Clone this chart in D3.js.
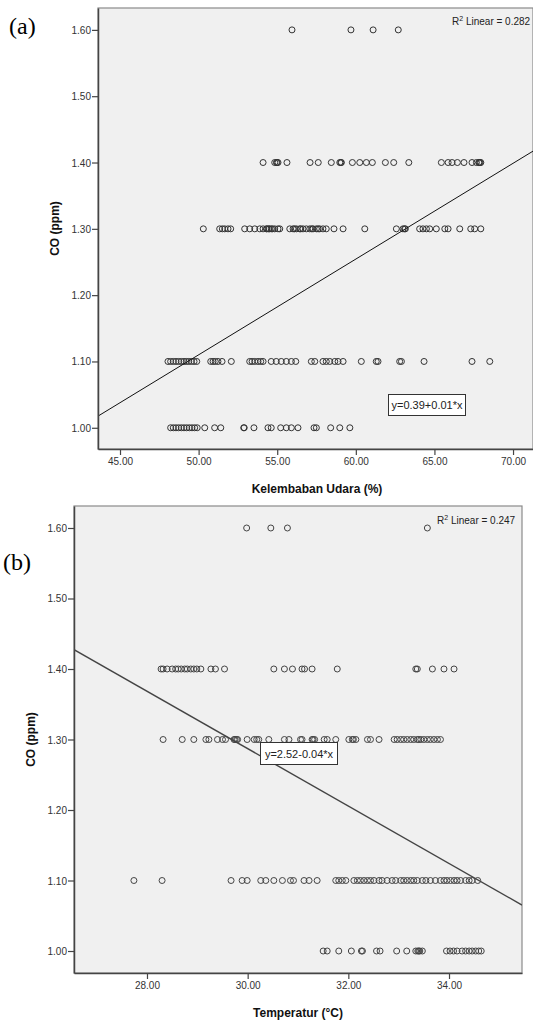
<!DOCTYPE html>
<html><head><meta charset="utf-8">
<script src="https://cdn.jsdelivr.net/npm/d3@7"></script>
<style>
html,body{margin:0;padding:0;background:#fff;}
svg{display:block;}
</style></head>
<body>
<script>
// ---------- DATA ----------
const yTicks = [1.00, 1.10, 1.20, 1.30, 1.40, 1.50, 1.60];
const humTicks = [45, 50, 55, 60, 65, 70];
const tempTicks = [28, 30, 32, 34];

// Chart (a): Kelembaban Udara (%) vs CO, x values per CO level
const hum_co160 = [55.94, 59.69, 61.10, 62.70];
const hum_co140 = [54.10, 54.84, 54.95, 54.99, 55.05, 55.62, 57.09, 57.61, 58.44, 58.98, 59.05, 59.08, 59.78, 60.25, 60.67, 61.05, 61.88, 62.41, 63.37, 65.44, 65.87, 66.12, 66.46, 66.88, 67.39, 67.67, 67.82, 67.85, 67.90, 67.95];
const hum_co130 = [50.30, 51.34, 51.51, 51.66, 51.87, 52.04, 52.93, 53.25, 53.57, 53.89, 54.10, 54.31, 54.35, 54.46, 54.50, 54.62, 54.70, 54.84, 55.05, 55.16, 55.80, 56.01, 56.10, 56.22, 56.43, 56.50, 56.64, 56.85, 57.07, 57.20, 57.28, 57.49, 57.60, 57.70, 57.91, 58.12, 58.61, 59.19, 60.57, 62.58, 63.00, 63.10, 63.15, 64.06, 64.27, 64.49, 64.70, 65.12, 65.66, 65.87, 66.61, 67.31, 67.56, 67.95];
const hum_co110 = [48.05, 48.22, 48.39, 48.56, 48.73, 48.90, 49.07, 49.22, 49.37, 49.54, 49.71, 49.88, 50.77, 50.92, 51.06, 51.23, 51.49, 52.08, 53.25, 53.40, 53.57, 53.78, 53.95, 54.10, 54.62, 54.94, 55.26, 55.58, 55.90, 56.18, 57.17, 57.39, 57.91, 58.12, 58.34, 58.66, 58.87, 59.19, 60.35, 61.30, 61.41, 62.79, 62.90, 64.34, 67.39, 68.52];
const hum_co100 = [48.22, 48.39, 48.56, 48.73, 48.90, 49.07, 49.24, 49.41, 49.58, 49.75, 49.91, 50.39, 51.02, 51.41, 52.87, 52.90, 53.52, 54.41, 54.62, 55.22, 55.58, 55.90, 56.32, 57.34, 57.49, 58.40, 58.98, 59.62];
const humFit = [0.388, 0.01444]; // intercept, slope

// Chart (b): Temperatur (°C) vs CO
const temp_co160 = [29.98, 30.46, 30.79, 33.57];
const temp_co140 = [28.28, 28.32, 28.40, 28.50, 28.57, 28.62, 28.68, 28.75, 28.80, 28.87, 28.93, 28.99, 29.07, 29.27, 29.36, 29.54, 30.52, 30.73, 30.89, 31.08, 31.13, 31.28, 31.78, 33.34, 33.37, 33.67, 33.90, 34.10];
const temp_co130 = [28.32, 28.70, 28.93, 29.17, 29.23, 29.40, 29.50, 29.56, 29.73, 29.75, 29.78, 29.80, 29.99, 30.13, 30.18, 30.22, 30.42, 30.73, 30.82, 31.05, 31.08, 31.28, 31.30, 31.33, 31.52, 31.58, 31.75, 32.01, 32.08, 32.10, 32.15, 32.38, 32.44, 32.61, 32.91, 32.97, 33.04, 33.10, 33.17, 33.24, 33.30, 33.37, 33.40, 33.44, 33.50, 33.57, 33.63, 33.70, 33.77, 33.83];
const temp_co110 = [27.74, 28.30, 29.67, 29.89, 29.99, 30.26, 30.36, 30.52, 30.69, 30.85, 30.91, 31.12, 31.22, 31.38, 31.75, 31.81, 31.88, 31.95, 32.11, 32.18, 32.24, 32.31, 32.38, 32.44, 32.51, 32.61, 32.67, 32.77, 32.87, 32.94, 33.04, 33.10, 33.17, 33.24, 33.30, 33.37, 33.47, 33.54, 33.63, 33.73, 33.83, 33.90, 33.96, 34.03, 34.10, 34.16, 34.23, 34.33, 34.40, 34.46, 34.57];
const temp_co100 = [31.50, 31.58, 31.81, 32.06, 32.26, 32.28, 32.56, 32.63, 32.96, 33.16, 33.34, 33.38, 33.40, 33.42, 33.47, 33.95, 34.02, 34.09, 34.16, 34.26, 34.33, 34.40, 34.46, 34.53, 34.59, 34.64];
const tempFit = [2.508, -0.0407];

function pts(levels) {
  const out = [];
  levels.forEach(([co, xs]) => xs.forEach(x => out.push({x, y: co})));
  return out;
}
const humPoints = pts([[1.60, hum_co160], [1.40, hum_co140], [1.30, hum_co130], [1.10, hum_co110], [1.00, hum_co100]]);
const tempPoints = pts([[1.60, temp_co160], [1.40, temp_co140], [1.30, temp_co130], [1.10, temp_co110], [1.00, temp_co100]]);

// ---------- DRAW ----------
const W = 533, H = 1024;
const svg = d3.select("body").append("svg").attr("width", W).attr("height", H);
svg.append("rect").attr("width", W).attr("height", H).attr("fill", "#fff");

function panel(cfg) {
  const x = d3.scaleLinear().domain(cfg.xDomain).range([cfg.left, cfg.right]);
  const y = d3.scaleLinear().domain(cfg.yDomain).range([cfg.bottom, cfg.top]);
  const g = svg.append("g");
  const clipId = "clip" + cfg.id;
  g.append("clipPath").attr("id", clipId).append("rect")
    .attr("x", cfg.left).attr("y", cfg.top)
    .attr("width", cfg.right - cfg.left).attr("height", cfg.bottom - cfg.top);

  g.append("rect").attr("x", cfg.left).attr("y", cfg.top)
    .attr("width", cfg.right - cfg.left).attr("height", cfg.bottom - cfg.top)
    .attr("fill", "#f0f0f0").attr("stroke", "#8a8a8a").attr("stroke-width", 1.2);

  // points
  g.append("g").attr("clip-path", `url(#${clipId})`).selectAll("circle").data(cfg.points).join("circle")
    .attr("cx", d => x(d.x)).attr("cy", d => y(d.y)).attr("r", 3)
    .attr("fill", "none").attr("stroke", cfg.pointColor).attr("stroke-width", 1);

  // regression line
  const xs = cfg.xDomain;
  g.append("line").attr("clip-path", `url(#${clipId})`)
    .attr("x1", x(xs[0])).attr("y1", y(cfg.fit[0] + cfg.fit[1] * xs[0]))
    .attr("x2", x(xs[1])).attr("y2", y(cfg.fit[0] + cfg.fit[1] * xs[1]))
    .attr("stroke", cfg.lineColor).attr("stroke-width", cfg.lineWidth);

  // axes
  const ya = g.append("g").attr("transform", `translate(${cfg.left},0)`)
    .call(d3.axisLeft(y).tickValues(yTicks).tickFormat(d3.format(".2f")).tickSize(6).tickSizeOuter(0));
  const xa = g.append("g").attr("transform", `translate(0,${cfg.bottom})`)
    .call(d3.axisBottom(x).tickValues(cfg.xTicks).tickFormat(d3.format(".2f")).tickSize(6).tickSizeOuter(0));
  [ya, xa].forEach(a => {
    a.select(".domain").attr("stroke", "#444").attr("stroke-width", 1.5);
    a.selectAll(".tick line").attr("stroke", "#444").attr("stroke-width", 1.2);
    a.selectAll(".tick text").attr("fill", "#333").attr("font-family", "Liberation Sans, Arial, sans-serif").attr("font-size", 10);
  });
  ya.selectAll(".tick text").attr("x", -7).attr("dy", "0.35em");
  xa.selectAll(".tick text").attr("y", 9);

  // titles
  g.append("text").attr("x", (cfg.left + cfg.right) / 2 + cfg.xTitleShift).attr("y", cfg.bottom + 44)
    .attr("text-anchor", "middle").attr("font-family", "Liberation Sans, Arial, sans-serif")
    .attr("font-weight", "bold").attr("font-size", 12).attr("fill", "#111").text(cfg.xTitle);
  g.append("text").attr("transform", `translate(${cfg.yTitleX},${(cfg.top + cfg.bottom) / 2}) rotate(-90)`)
    .attr("text-anchor", "middle").attr("font-family", "Liberation Sans, Arial, sans-serif")
    .attr("font-weight", "bold").attr("font-size", 12).attr("fill", "#111").text("CO (ppm)");

  // R2 label
  const r2 = g.append("text").attr("x", cfg.r2X).attr("y", cfg.r2Y)
    .attr("font-family", "Liberation Sans, Arial, sans-serif").attr("font-size", 10).attr("fill", "#222");
  r2.append("tspan").text("R");
  r2.append("tspan").attr("font-size", 7).attr("dy", -4).text("2");
  r2.append("tspan").attr("dy", 4).text(" Linear = " + cfg.r2);

  // equation box
  g.append("rect").attr("x", cfg.eqBox[0]).attr("y", cfg.eqBox[1]).attr("width", cfg.eqBox[2]).attr("height", cfg.eqBox[3])
    .attr("fill", "#fff").attr("stroke", "#333").attr("stroke-width", 1);
  g.append("text").attr("x", cfg.eqBox[0] + cfg.eqBox[2] / 2).attr("y", cfg.eqBox[1] + cfg.eqBox[3] / 2 + 4)
    .attr("text-anchor", "middle").attr("font-family", "Liberation Sans, Arial, sans-serif")
    .attr("font-size", 11).attr("fill", "#222").text(cfg.eq);

  // panel letter
  svg.append("text").attr("x", cfg.letterX).attr("y", cfg.letterY)
    .attr("font-family", "Liberation Serif, Times New Roman, serif").attr("font-size", 24).attr("fill", "#000").text(cfg.letter);
}

panel({
  id: "a", left: 98, right: 533, top: 8, bottom: 449,
  xDomain: [43.6, 71.27], yDomain: [0.968, 1.633], xTicks: humTicks,
  points: humPoints, fit: humFit, pointColor: "#333", lineColor: "#111", lineWidth: 1,
  xTitle: "Kelembaban Udara (%)", xTitleShift: 1.5, yTitleX: 59,
  r2: "0.282", r2X: 452, r2Y: 25,
  eqBox: [388.5, 394.5, 77, 21], eq: "y=0.39+0.01*x",
  letter: "(a)", letterX: 9, letterY: 34
});

panel({
  id: "b", left: 74, right: 522, top: 506, bottom: 973,
  xDomain: [26.55, 35.45], yDomain: [0.9688, 1.6312], xTicks: tempTicks,
  points: tempPoints, fit: tempFit, pointColor: "#444", lineColor: "#444", lineWidth: 1.4,
  xTitle: "Temperatur (°C)", xTitleShift: 0, yTitleX: 35,
  r2: "0.247", r2X: 437, r2Y: 524,
  eqBox: [260.5, 742.5, 77, 22], eq: "y=2.52-0.04*x",
  letter: "(b)", letterX: 3, letterY: 570
});
</script>
</body></html>
